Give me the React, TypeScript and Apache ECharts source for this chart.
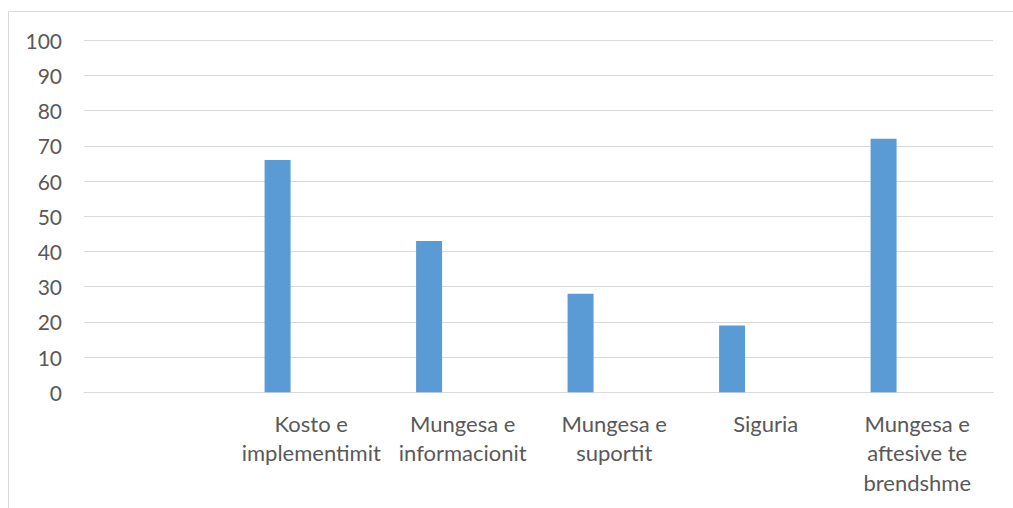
import React, { useEffect, useRef } from "react";
import * as echarts from "echarts";

const categories = [
  "",
  "Kosto e\nimplementimit",
  "Mungesa e\ninformacionit",
  "Mungesa e\nsuportit",
  "Siguria",
  "Mungesa e\naftesive te\nbrendshme",
];
const seriesValues = [null, 66, 43, 28, 19, 72];
const emptySeries = [null, null, null, null, null, null];
const yTicks = { min: 0, max: 100, interval: 10 };

export default function App() {
  const ref = useRef<HTMLDivElement>(null);
  useEffect(() => {
    if (!ref.current) return;
    const chart = echarts.init(ref.current, undefined, { renderer: "svg" });
    const font = "Lato, 'Open Sans', sans-serif";
    chart.setOption({
      animation: false,
      backgroundColor: "#ffffff",
      graphic: [
        {
          type: "rect",
          shape: { x: 8.5, y: 11.5, width: 1020, height: 520 },
          style: { fill: "none", stroke: "#d9d9d9", lineWidth: 1 },
          silent: true,
        },
      ],
      grid: { left: 84, right: 20, top: 40.3, bottom: 115.7 },
      xAxis: {
        type: "category",
        data: categories,
        axisLine: { show: true, lineStyle: { color: "#d9d9d9", width: 1 } },
        axisTick: { show: false },
        axisLabel: {
          interval: 0,
          color: "#595959",
          fontFamily: font,
          fontSize: 22,
          lineHeight: 29.5,
          margin: 16,
        },
      },
      yAxis: {
        type: "value",
        min: yTicks.min,
        max: yTicks.max,
        interval: yTicks.interval,
        axisLine: { show: false },
        axisTick: { show: false },
        splitLine: { lineStyle: { color: "#d9d9d9", width: 1 } },
        axisLabel: {
          color: "#595959",
          fontFamily: font,
          fontSize: 21,
          margin: 22,
        },
      },
      series: [
        {
          name: "Seria 1",
          type: "bar",
          data: seriesValues,
          barWidth: 26,
          barGap: "159%",
          itemStyle: { color: "#5b9bd5" },
        },
        {
          name: "Seria 2",
          type: "bar",
          data: emptySeries,
          barWidth: 26,
          itemStyle: { color: "#ed7d31" },
        },
      ],
    });
    return () => chart.dispose();
  }, []);
  return (
    <div
      ref={ref}
      style={{ position: "fixed", left: 0, top: 0, width: 1013, height: 508 }}
    />
  );
}
